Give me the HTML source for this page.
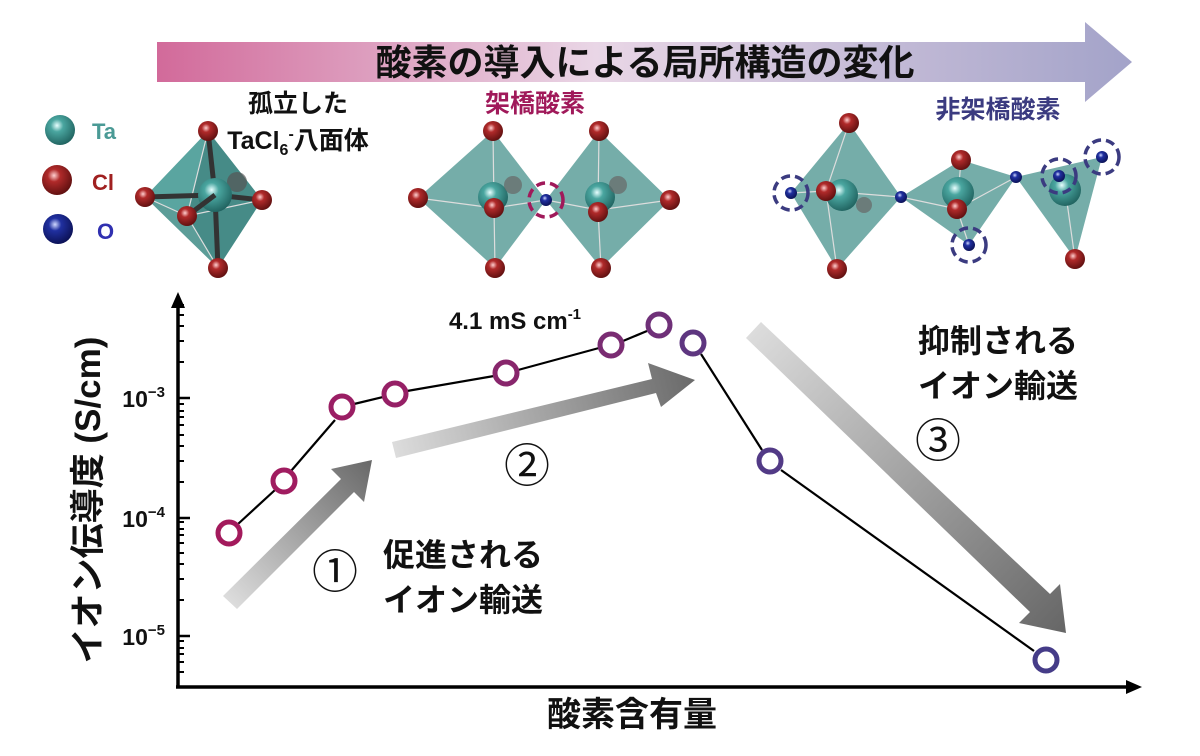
<!DOCTYPE html>
<html><head><meta charset="utf-8"><style>
html,body{margin:0;padding:0;background:#fff}
svg{display:block}
text{font-family:"Liberation Sans","Noto Sans CJK JP",sans-serif;font-weight:bold}
</style></head><body>
<svg width="1200" height="756" viewBox="0 0 1200 756" xmlns="http://www.w3.org/2000/svg">
<defs>
<linearGradient id="ban" x1="0" x2="1" y1="0" y2="0">
<stop offset="0" stop-color="#d26a9a"/><stop offset="0.45" stop-color="#e9d6e6"/><stop offset="1" stop-color="#a3a3c9"/>
</linearGradient>
<radialGradient id="ta" cx="0.4" cy="0.35" r="0.7"><stop offset="0" stop-color="#e8ffff"/><stop offset="0.3" stop-color="#4aa6a0"/><stop offset="1" stop-color="#1e5f5c"/></radialGradient>
<radialGradient id="cl" cx="0.4" cy="0.35" r="0.7"><stop offset="0" stop-color="#ffd0d0"/><stop offset="0.3" stop-color="#b02a2a"/><stop offset="1" stop-color="#5a0e0e"/></radialGradient>
<radialGradient id="o" cx="0.4" cy="0.35" r="0.7"><stop offset="0" stop-color="#d0d8ff"/><stop offset="0.3" stop-color="#2030a0"/><stop offset="1" stop-color="#0a0f50"/></radialGradient>
<linearGradient id="a1" gradientUnits="userSpaceOnUse" x1="232" y1="603" x2="372" y2="465"><stop offset="0" stop-color="#dcdcdc"/><stop offset="1" stop-color="#6a6a6a"/></linearGradient>
<linearGradient id="a2" gradientUnits="userSpaceOnUse" x1="395" y1="450" x2="695" y2="378"><stop offset="0" stop-color="#dcdcdc"/><stop offset="1" stop-color="#6a6a6a"/></linearGradient>
<linearGradient id="a3" gradientUnits="userSpaceOnUse" x1="755" y1="330" x2="1068" y2="630"><stop offset="0" stop-color="#dcdcdc"/><stop offset="1" stop-color="#666"/></linearGradient>
</defs>

<polygon points="157,42 1085,42 1085,22 1132,62 1085,102 1085,82 157,82" fill="url(#ban)"/>
<text x="645" y="75" font-size="36" text-anchor="middle" fill="#111">酸素の導入による局所構造の変化</text>

<circle cx="60" cy="130" r="15" fill="url(#ta)"/><text x="92" y="139" font-size="22" fill="#4a9a95">Ta</text>
<circle cx="57" cy="180" r="15" fill="url(#cl)"/><text x="92" y="190" font-size="22" fill="#a02020">Cl</text>
<circle cx="58" cy="229" r="15" fill="url(#o)"/><text x="97" y="239" font-size="22" fill="#3030b0">O</text>

<text x="298" y="112" font-size="25" text-anchor="middle" fill="#111">孤立した</text>
<text x="298" y="149" font-size="25" text-anchor="middle" fill="#111">TaCl<tspan font-size="16" dy="6">6</tspan><tspan font-size="16" dy="-16">-</tspan><tspan dy="10">八面体</tspan></text>
<polygon points="208,131 145,197 218,268 262,200" fill="#3f8c86" opacity="0.85"/>
<polygon points="208,131 145,197 187,216" fill="#5aa8a2" opacity="0.8"/>
<polygon points="187,216 218,268 262,200 208,131" fill="#2f7a75" opacity="0.5"/>
<g stroke="#ddd" stroke-width="1.2" fill="none"><path d="M208,131 L187,216 L218,268 M145,197 L187,216 L262,200"/></g>
<g stroke="#333" stroke-width="5"><line x1="215" y1="195" x2="208" y2="131"/><line x1="215" y1="195" x2="218" y2="268"/><line x1="215" y1="195" x2="145" y2="197"/><line x1="215" y1="195" x2="262" y2="200"/></g>
<circle cx="237" cy="182" r="10" fill="#555" opacity="0.7"/>
<circle cx="215" cy="195" r="17" fill="url(#ta)"/>
<g stroke="#333" stroke-width="5"><line x1="215" y1="195" x2="187" y2="216"/></g>
<circle cx="208" cy="131" r="10" fill="url(#cl)"/><circle cx="145" cy="197" r="10" fill="url(#cl)"/><circle cx="218" cy="268" r="10" fill="url(#cl)"/><circle cx="262" cy="200" r="10" fill="url(#cl)"/><circle cx="187" cy="216" r="10" fill="url(#cl)"/>

<text x="535" y="112" font-size="25" text-anchor="middle" fill="#a0195a">架橋酸素</text>
<polygon points="493,131 418,198 495,268 546,200" fill="#5d9f9a" opacity="0.85"/>
<polygon points="599,131 546,200 601,268 670,200" fill="#5d9f9a" opacity="0.85"/>
<g stroke="#ddd" stroke-width="1.2" fill="none"><path d="M493,131 L494,208 L495,268 M418,198 L494,208 L546,200 M599,131 L598,210 L601,268 M546,200 L598,210 L670,200"/></g>
<circle cx="493" cy="197" r="15" fill="url(#ta)"/><circle cx="513" cy="185" r="9" fill="#666" opacity="0.7"/>
<circle cx="600" cy="197" r="15" fill="url(#ta)"/><circle cx="618" cy="185" r="9" fill="#666" opacity="0.7"/>
<circle cx="493" cy="131" r="10" fill="url(#cl)"/><circle cx="418" cy="198" r="10" fill="url(#cl)"/><circle cx="495" cy="268" r="10" fill="url(#cl)"/><circle cx="494" cy="208" r="10" fill="url(#cl)"/>
<circle cx="599" cy="131" r="10" fill="url(#cl)"/><circle cx="670" cy="200" r="10" fill="url(#cl)"/><circle cx="601" cy="268" r="10" fill="url(#cl)"/><circle cx="598" cy="212" r="10" fill="url(#cl)"/>
<circle cx="546" cy="200" r="6" fill="url(#o)"/>
<circle cx="546" cy="200" r="17" fill="none" stroke="#a0195a" stroke-width="3.5" stroke-dasharray="9,5"/>

<text x="998" y="118" font-size="25" text-anchor="middle" fill="#3b3b80">非架橋酸素</text>
<polygon points="849,123 791,193 837,269 901,197" fill="#5d9f9a" opacity="0.85"/>
<polygon points="961,160 901,197 969,245 1016,177" fill="#5d9f9a" opacity="0.85"/>
<polygon points="1016,177 1102,157 1075,259" fill="#5d9f9a" opacity="0.85"/>
<g stroke="#ddd" stroke-width="1.2" fill="none"><path d="M849,123 L826,191 L837,269 M791,193 L826,191 L901,197 M901,197 L957,209 L1016,177 M961,160 L957,209 L969,245 M1059,176 L1065,188 L1075,259"/></g>
<circle cx="842" cy="195" r="16" fill="url(#ta)"/><circle cx="864" cy="205" r="8" fill="#666" opacity="0.7"/>
<circle cx="958" cy="193" r="16" fill="url(#ta)"/>
<circle cx="1065" cy="190" r="16" fill="url(#ta)"/>
<circle cx="849" cy="123" r="10" fill="url(#cl)"/><circle cx="826" cy="191" r="10" fill="url(#cl)"/><circle cx="837" cy="269" r="10" fill="url(#cl)"/>
<circle cx="961" cy="160" r="10" fill="url(#cl)"/><circle cx="957" cy="209" r="10" fill="url(#cl)"/><circle cx="1075" cy="259" r="10" fill="url(#cl)"/>
<g fill="url(#o)"><circle cx="791" cy="193" r="6"/><circle cx="901" cy="197" r="6"/><circle cx="969" cy="245" r="6"/><circle cx="1016" cy="177" r="6"/><circle cx="1059" cy="176" r="6"/><circle cx="1102" cy="157" r="6"/></g>
<g fill="none" stroke="#3b3b80" stroke-width="3.5" stroke-dasharray="9,5"><circle cx="791" cy="193" r="17"/><circle cx="969" cy="245" r="17"/><circle cx="1059" cy="176" r="17"/><circle cx="1102" cy="157" r="17"/></g>

<g stroke="#000" stroke-width="3.5" fill="none"><line x1="178" y1="305" x2="178" y2="687"/><line x1="176" y1="687" x2="1128" y2="687"/></g>
<polygon points="178,292 171,308 185,308" fill="#000"/>
<polygon points="1142,687 1126,680 1126,694" fill="#000"/>
<g stroke="#000" stroke-width="2.5">
<line x1="178" y1="398" x2="190" y2="398"/><line x1="178" y1="518" x2="190" y2="518"/><line x1="178" y1="636" x2="190" y2="636"/>
</g>
<g stroke="#000" stroke-width="2">
<path d="M178,600h6M178,579h6M178,564h6M178,553h6M178,543h6M178,535h6M178,529h6M178,522h6M178,482h6M178,461h6M178,446h6M178,435h6M178,425h6M178,417h6M178,411h6M178,404h6M178,362h6M178,341h6M178,326h6M178,315h6M178,305h6M178,672h6M178,662h6M178,654h6M178,648h6M178,641h6"/>
</g>
<g font-size="23" fill="#111" text-anchor="end">
<text x="165" y="407">10<tspan font-size="15" dy="-10">−3</tspan></text>
<text x="165" y="527">10<tspan font-size="15" dy="-10">−4</tspan></text>
<text x="165" y="645">10<tspan font-size="15" dy="-10">−5</tspan></text>
</g>
<text transform="translate(100,500) rotate(-90)" font-size="35" text-anchor="middle" fill="#111">イオン伝導度 (S/cm)</text>
<text x="632" y="726" font-size="34" text-anchor="middle" fill="#111">酸素含有量</text>

<polygon points="223,596 341,479 331,469 372,460 364,502 354,492 237,609" fill="url(#a1)"/>
<polygon points="392,442 652,379 648,363 695,380 661,407 656,393 396,458" fill="url(#a2)"/>
<polygon points="746,338 761,322 1050,594 1060,584 1066,633 1019,623 1030,612" fill="url(#a3)"/>

<g stroke="#000" stroke-width="2.2">
<line x1="238" y1="524" x2="275" y2="490"/><line x1="291" y1="471" x2="335" y2="420"/><line x1="354" y1="404" x2="383" y2="397"/>
<line x1="407" y1="391" x2="494" y2="376"/><line x1="518" y1="370" x2="599" y2="348"/><line x1="623" y1="341" x2="647" y2="331"/>
<line x1="701" y1="354" x2="762" y2="450"/><line x1="781" y1="470" x2="1034" y2="651"/>
</g>
<g fill="none" stroke-width="5">
<circle cx="229" cy="533" r="11" stroke="#a31a5c"/><circle cx="284" cy="481" r="11" stroke="#a01c60"/>
<circle cx="342" cy="407" r="11" stroke="#9a1e64"/><circle cx="395" cy="394" r="11" stroke="#962066"/>
<circle cx="506" cy="373" r="11" stroke="#88266c"/><circle cx="611" cy="345" r="11" stroke="#7a2c72"/>
<circle cx="659" cy="325" r="11" stroke="#6f3078"/><circle cx="693" cy="343" r="11" stroke="#5e3680"/>
<circle cx="770" cy="461" r="11" stroke="#523a86"/><circle cx="1046" cy="660" r="11" stroke="#453c88"/>
</g>

<text x="515" y="329" font-size="24" text-anchor="middle" fill="#111">4.1 mS cm<tspan font-size="15" dy="-10">-1</tspan></text>
<g font-size="46" fill="#111" text-anchor="middle">
<text x="335" y="588" style="font-weight:normal">①</text>
<text x="527" y="482" style="font-weight:normal">②</text>
<text x="938" y="457" style="font-weight:normal">③</text>
</g>
<g font-size="32" fill="#111">
<text x="383" y="566">促進される</text>
<text x="383" y="611">イオン輸送</text>
<text x="918" y="352">抑制される</text>
<text x="918" y="397">イオン輸送</text>
</g>
</svg>
</body></html>
